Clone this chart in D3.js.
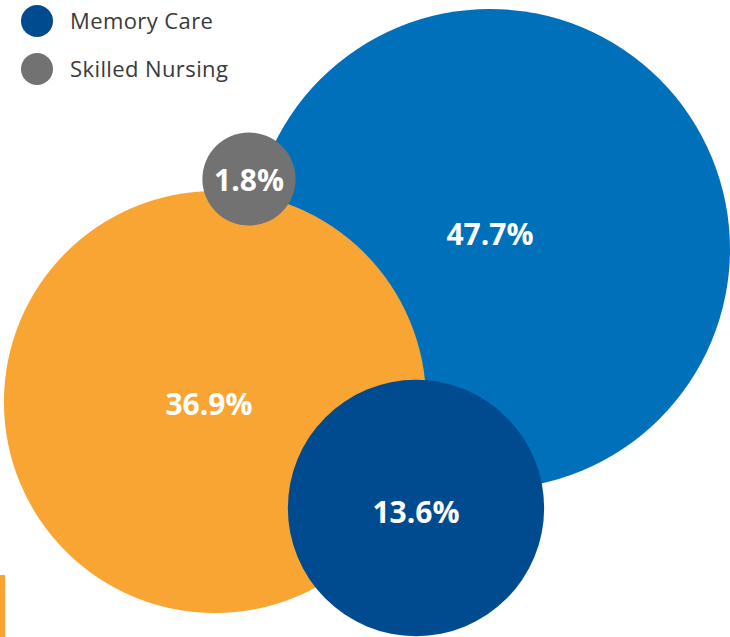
<!DOCTYPE html>
<html>
<head>
<meta charset="utf-8">
<script src="https://cdn.jsdelivr.net/npm/d3@7"></script>
<style>
  html, body { margin: 0; padding: 0; background: #fff; }
  svg { display: block; }
</style>
</head>
<body>
<div id="chart"></div>
<script>
// data
var categories = ['Assisted Living', 'Independent Living', 'Memory Care', 'Skilled Nursing'];
var shares = [47.7, 36.9, 13.6, 1.8];
var legendItems = ['Memory Care', 'Skilled Nursing'];

// colours per category
var colors = ['#0070ba', '#f9a533', '#004a8f', '#717271'];

// bubble layout (centre of each bubble, in px) and label nudge
var centres = [[490, 249], [215, 402], [416, 508], [249, 179]];
var labelDx = [0, -6, 0, 0];
var labelDy = [-15, 2, 4, 1];

var w = 730, h = 637;

var svg = d3.select('#chart')
    .append('svg')
    .attr('width', w)
    .attr('height', h);

var rScale = d3.scaleSqrt()
    .domain([0, d3.max(shares)])
    .range([0, 240]);

var data = categories.map(function (c, i) {
    return {
        name: c, value: shares[i], color: colors[i],
        cx: centres[i][0], cy: centres[i][1], dx: labelDx[i], dy: labelDy[i]
    };
});

var bubbles = svg.selectAll('g.bubble')
    .data(data)
    .enter()
    .append('g')
    .attr('class', 'bubble');

bubbles.append('circle')
    .attr('cx', function (d) { return d.cx; })
    .attr('cy', function (d) { return d.cy; })
    .attr('r', function (d) { return rScale(d.value); })
    .attr('fill', function (d) { return d.color; });

bubbles.append('text')
    .attr('x', function (d) { return d.cx + d.dx; })
    .attr('y', function (d) { return d.cy + d.dy; })
    .attr('dy', '0.36em')
    .attr('text-anchor', 'middle')
    .attr('fill', '#fff')
    .style('font-family', '"Open Sans", "Noto Sans", sans-serif')
    .style('font-weight', 700)
    .style('font-size', '30px')
    .text(function (d) { return d3.format('.1f')(d.value) + '%'; });

// legend
var legend = svg.selectAll('g.legend')
    .data(legendItems)
    .enter()
    .append('g')
    .attr('class', 'legend')
    .attr('transform', function (d, i) { return `translate(37,${21 + i * 48})`; });

legend.append('circle')
    .attr('r', 16)
    .attr('fill', function (d) { return colors[categories.indexOf(d)]; });

legend.append('text')
    .attr('x', 33)
    .attr('dy', '0.36em')
    .attr('fill', '#3a3a3a')
    .style('font-family', '"Open Sans", "Noto Sans", sans-serif')
    .style('font-weight', 400)
    .style('font-size', '22px')
    .style('letter-spacing', '0.4px')
    .text(function (d) { return d; });

// orange marker at the bottom left edge
svg.append('rect')
    .attr('x', 0)
    .attr('y', 575)
    .attr('width', 5)
    .attr('height', h - 575)
    .attr('fill', colors[1]);
</script>
</body>
</html>
